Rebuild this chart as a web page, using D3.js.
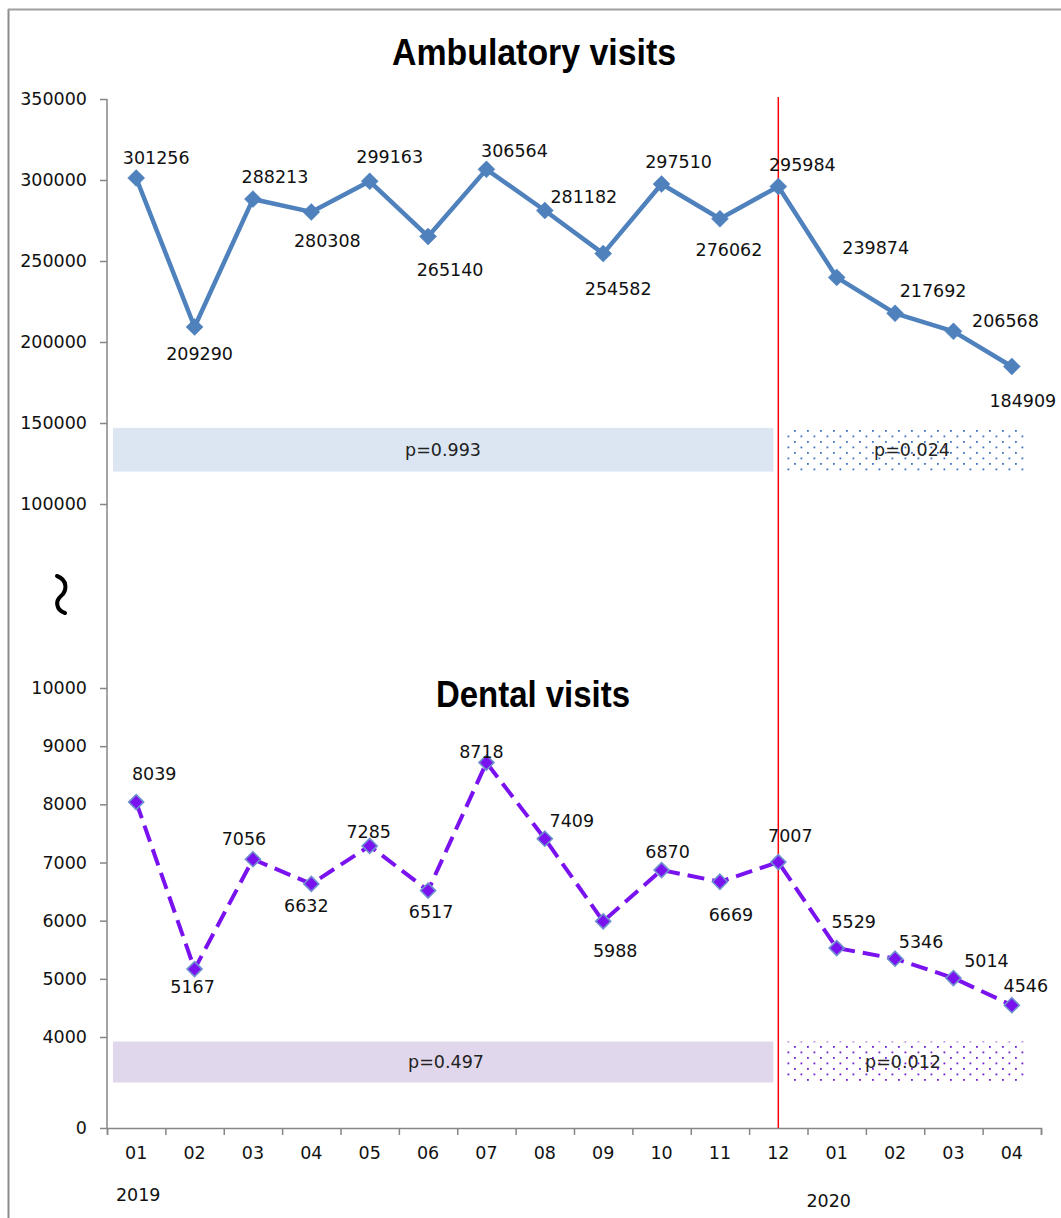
<!DOCTYPE html>
<html>
<head>
<meta charset="utf-8">
<script src="https://cdn.jsdelivr.net/npm/d3@7"></script>
<style>
  html, body { margin: 0; padding: 0; background: #fff; }
  svg { display: block; }
</style>
</head>
<body>
<svg id="chart" width="1061" height="1218"></svg>
<script>
// ---- data ----
const months = ["01","02","03","04","05","06","07","08","09","10","11","12","01","02","03","04"];
const years = ["2019", "2020"];
const ambulatory = [301256,209290,288213,280308,299163,265140,306564,281182,254582,297510,276062,295984,239874,217692,206568,184909];
const dental = [8039,5167,7056,6632,7285,6517,8718,7409,5988,6870,6669,7007,5529,5346,5014,4546];
const topTicks = [100000,150000,200000,250000,300000,350000];
const bottomTicks = [0,4000,5000,6000,7000,8000,9000,10000];
const titles = ["Ambulatory visits", "Dental visits"];
const ambP = ["p=0.993", "p=0.024"];
const dentalP = ["p=0.497", "p=0.012"];
// label placement offsets (px) from each marker
const ambLabelOffsets = [[20,-20],[5,27],[22,-22],[16,29],[20,-24],[22,33],[28,-18],[39,-14],[15,35],[17,-22],[9,31],[24,-22],[39,-30],[38,-22],[52,-10],[11,34]];
const dentalLabelOffsets = [[18,-28],[-2,18],[-9,-20],[-5,22],[-1,-14],[3,21],[-5,-11],[27,-18],[12,30],[6,-18],[11,33],[12,-26],[17,-26],[26,-17],[33,-17],[14,-19]];

// ---- layout ----
const svg = d3.select("#chart");
const X0 = 107, X1 = 1041, AXIS_BOTTOM = 1128, AXIS_TOP = 99;
const idx = d3.range(months.length);
const xb = d3.scaleBand().domain(idx).range([X0, X1]).padding(0);
const xEdge = d3.scaleLinear().domain([0, months.length]).range([X0, X1]);
const cx = i => xb(i) + xb.bandwidth() / 2;
const yTop = d3.scaleLinear().domain([100000, 350000]).range([504, AXIS_TOP]);
const yBot = d3.scaleLinear().domain([0, 4000, 10000]).range([AXIS_BOTTOM, 1037, 688]);

const axisColor = "#868686";
const labelFont = "'DejaVu Sans', Verdana, sans-serif";
const textColor = "#111";
const FS = 17.5;

// frame
svg.append("line").attr("x1", 8.5).attr("x2", 8.5).attr("y1", 9).attr("y2", 1218)
  .attr("stroke", "#8c8c8c").attr("stroke-width", 2);
svg.append("line").attr("x1", 8).attr("x2", 1061).attr("y1", 9.5).attr("y2", 9.5)
  .attr("stroke", "#a0a0a0").attr("stroke-width", 2);

// patterns
const defs = svg.append("defs");
function dotPattern(id, color) {
  const p = defs.append("pattern").attr("id", id).attr("patternUnits", "userSpaceOnUse")
    .attr("width", 13).attr("height", 11);
  p.append("rect").attr("x", 1).attr("y", 1).attr("width", 1.8).attr("height", 1.8).attr("fill", color);
  p.append("rect").attr("x", 7.5).attr("y", 6.5).attr("width", 1.8).attr("height", 1.8).attr("fill", color);
}
dotPattern("dotsBlue", "#3f72c0");
dotPattern("dotsPurple", "#7020d0");

// p-value boxes
function pBoxes(scale, v0, v1, fillSolid, patId, texts, tx) {
  const yA = scale(v1), yB = scale(v0);
  const redX = cx(11);
  svg.append("rect").attr("x", X0 + 6).attr("y", yA).attr("width", redX - 5 - (X0 + 6)).attr("height", yB - yA)
    .attr("fill", fillSolid);
  svg.append("rect").attr("x", redX + 6).attr("y", yA).attr("width", X1 - 13 - (redX + 6)).attr("height", yB - yA)
    .attr("fill", `url(#${patId})`);
  texts.forEach((t, k) => {
    svg.append("text").attr("x", tx[k]).attr("y", (yA + yB) / 2).attr("dy", "0.35em")
      .attr("text-anchor", "middle").attr("font-family", labelFont).attr("font-size", FS)
      .attr("fill", "#222").text(t);
  });
}
pBoxes(yTop, 120000, 147000, "#dce6f2", "dotsBlue", ambP, [443, 912]);
pBoxes(yBot, 2000, 3800, "#e0d7ec", "dotsPurple", dentalP, [446, 903]);

// y axes
function yAxis(scale, ticks) {
  const g = svg.append("g").attr("transform", `translate(${X0},0)`)
    .call(d3.axisLeft(scale).tickValues(ticks).tickSize(7).tickPadding(13).tickFormat(d3.format("d")));
  g.select(".domain").remove();
  g.selectAll(".tick line").attr("stroke", axisColor).attr("stroke-width", 1.5);
  g.selectAll(".tick text").attr("font-family", labelFont).attr("font-size", FS).attr("fill", textColor);
}
yAxis(yTop, topTicks);
yAxis(yBot, bottomTicks);
svg.append("line").attr("x1", X0).attr("x2", X0).attr("y1", AXIS_TOP).attr("y2", AXIS_BOTTOM)
  .attr("stroke", axisColor).attr("stroke-width", 1.5);

// x axis
const gx = svg.append("g").attr("transform", `translate(0,${AXIS_BOTTOM})`)
  .call(d3.axisBottom(xEdge).tickValues(d3.range(months.length + 1)).tickSize(7).tickFormat(""));
gx.select(".domain").attr("stroke", axisColor).attr("stroke-width", 1.5);
gx.selectAll(".tick line").attr("stroke", axisColor).attr("stroke-width", 1.5);
const gxl = svg.append("g").attr("transform", `translate(0,${AXIS_BOTTOM})`)
  .call(d3.axisBottom(xb).tickSize(0).tickPadding(19).tickFormat(i => months[i]));
gxl.select(".domain").remove();
gxl.selectAll(".tick text").attr("font-family", labelFont).attr("font-size", FS).attr("fill", textColor);

// years
svg.append("text").attr("x", cx(0) + 2).attr("y", 1195).attr("dy", "0.35em").attr("text-anchor", "middle")
  .attr("font-family", labelFont).attr("font-size", FS).attr("fill", textColor).text(years[0]);
svg.append("text").attr("x", cx(12) - 8).attr("y", 1201).attr("dy", "0.35em").attr("text-anchor", "middle")
  .attr("font-family", labelFont).attr("font-size", FS).attr("fill", textColor).text(years[1]);

// axis break squiggle
svg.append("path").attr("d", "M57,576 C68,580 67,591 61,596 C55,601 56,610 65,613")
  .attr("fill", "none").attr("stroke", "#000").attr("stroke-width", 4).attr("stroke-linecap", "round");

// red divider
svg.append("line").attr("x1", cx(11)).attr("x2", cx(11)).attr("y1", 97).attr("y2", AXIS_BOTTOM)
  .attr("stroke", "#ff0000").attr("stroke-width", 1.5);

// titles
svg.append("text").attr("x", 534).attr("y", 65).attr("text-anchor", "middle")
  .attr("font-family", "'Liberation Sans', Arial, sans-serif").attr("font-weight", "bold")
  .attr("font-size", 36).attr("textLength", 284).attr("lengthAdjust", "spacingAndGlyphs")
  .attr("fill", "#000").text(titles[0]);
svg.append("text").attr("x", 533).attr("y", 707).attr("text-anchor", "middle")
  .attr("font-family", "'Liberation Sans', Arial, sans-serif").attr("font-weight", "bold")
  .attr("font-size", 36).attr("textLength", 194).attr("lengthAdjust", "spacingAndGlyphs")
  .attr("fill", "#000").text(titles[1]);

// series
function diamond(r) { return `M0,${-r}L${r},0L0,${r}L${-r},0Z`; }

function series(values, scale, opts, offsets) {
  const line = d3.line().x((d, i) => cx(i)).y(d => scale(d));
  svg.append("path").datum(values).attr("d", line).attr("fill", "none")
    .attr("stroke", opts.color).attr("stroke-width", opts.width)
    .attr("stroke-dasharray", opts.dash || null).attr("stroke-linejoin", "round");
  svg.selectAll(null).data(values).join("path")
    .attr("transform", (d, i) => `translate(${cx(i)},${scale(d)})`)
    .attr("d", diamond(opts.r)).attr("fill", opts.color)
    .attr("stroke", opts.mstroke).attr("stroke-width", opts.mstrokeW);
  svg.selectAll(null).data(values).join("text")
    .attr("x", (d, i) => cx(i) + offsets[i][0]).attr("y", (d, i) => scale(d) + offsets[i][1])
    .attr("dy", "0.35em").attr("text-anchor", "middle")
    .attr("font-family", labelFont).attr("font-size", FS).attr("fill", textColor)
    .text(d => d);
}
series(ambulatory, yTop, {color: "#4f81bd", width: 4.5, r: 8.5, mstroke: "#4f81bd", mstrokeW: 0.5}, ambLabelOffsets);
series(dental, yBot, {color: "#7a12f0", width: 4, dash: "17,8", r: 7.5, mstroke: "#6f8fcf", mstrokeW: 1.6}, dentalLabelOffsets);
</script>
</body>
</html>
